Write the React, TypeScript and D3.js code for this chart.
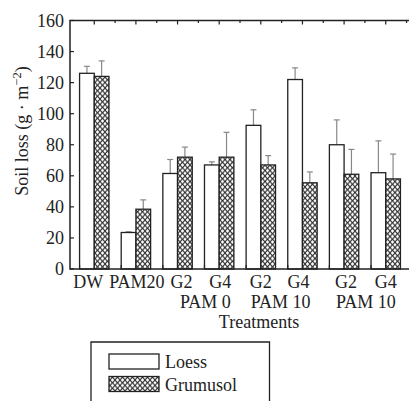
import * as d3 from "d3";

// treatment categories along the x axis
const categories = ["DW", "PAM20", "G2", "G4", "G2", "G4", "G2", "G4"];
// second-line group labels: [label, first index, last index]
const groups: [string, number, number][] = [
  ["PAM 0", 2, 3],
  ["PAM 10", 4, 5],
  ["PAM 10", 6, 7],
];
// soil loss (g·m-2) with upper error bar
const loess = [126, 23.5, 61.5, 67, 92.5, 122, 80, 62];
const loessErr = [4.5, 0.5, 9, 2, 10, 7.5, 16, 20.5];
const grumusol = [124, 38.5, 72, 72, 67, 55.5, 61, 58];
const grumusolErr = [10, 6, 6.5, 16, 6, 7, 16, 16];
const yTicks = [0, 20, 40, 60, 80, 100, 120, 140, 160];

const W = 409;
const H = 401;
const FONT = "'Liberation Serif', 'Times New Roman', serif";
// small hand nudges of the tick labels, as in the original layout
const labelNudge = [-6, 1, 4, 1, 0, -4, 2, 0];
const groupNudge = [7, -1, 1];

export default function App() {
  const left = 70;
  const top = 20.5;
  const bottom = 269;
  const right = 410;

  const y = d3.scaleLinear().domain([0, 160]).range([bottom, top]);
  const x = d3
    .scalePoint<number>()
    .domain(d3.range(categories.length))
    .range([left, right])
    .padding(0.583);
  const barW = 14.7;
  const step = x.step();

  const series = [
    { name: "Loess", values: loess, err: loessErr, fill: "#fff", off: -barW },
    { name: "Grumusol", values: grumusol, err: grumusolErr, fill: "url(#hatch)", off: 0 },
  ];

  return (
    <svg
      width={W}
      height={H}
      style={{ position: "absolute", left: 0, top: 0, background: "#fff" }}
      fontFamily={FONT}
    >
      <defs>
        <pattern id="hatch" patternUnits="userSpaceOnUse" width={5} height={5.5}>
          <rect width={5} height={5.5} fill="#fff" />
          <path d="M0,0L5,5.5M5,0L0,5.5" stroke="#333" strokeWidth={1.1} />
        </pattern>
      </defs>

      {/* bars */}
      {series.map((s) =>
        s.values.map((v, i) => {
          const cx = (x(i) as number) + s.off;
          return (
            <g key={s.name + i}>
              <line
                x1={cx + barW / 2}
                x2={cx + barW / 2}
                y1={y(v)}
                y2={y(v + s.err[i])}
                stroke="#888"
                strokeWidth={1.2}
              />
              <line
                x1={cx + barW / 2 - 3}
                x2={cx + barW / 2 + 3}
                y1={y(v + s.err[i])}
                y2={y(v + s.err[i])}
                stroke="#888"
                strokeWidth={1.2}
              />
              <rect
                x={cx}
                y={y(v)}
                width={barW}
                height={bottom - y(v)}
                fill={s.fill}
                stroke="#222"
                strokeWidth={1.3}
              />
            </g>
          );
        })
      )}

      {/* frame */}
      <path
        d={`M${W},${top}H${left}V${bottom}H${W}`}
        fill="none"
        stroke="#222"
        strokeWidth={1.5}
      />

      {/* y ticks */}
      {yTicks.map((t) => (
        <g key={t}>
          <line x1={left} x2={left + 4} y1={y(t)} y2={y(t)} stroke="#222" strokeWidth={1.2} />
          <text
            x={64}
            y={y(t)}
            dy="0.35em"
            textAnchor="end"
            fontSize={18}
            fill="#222"
          >
            {t}
          </text>
        </g>
      ))}

      {/* top & bottom ticks */}
      {categories.map((_, i) => {
        const c = x(i) as number;
        return (
          <g key={"t" + i}>
            <line x1={c} x2={c} y1={top} y2={top + 4} stroke="#222" strokeWidth={1.2} />
            <line
              x1={c + step / 2}
              x2={c + step / 2}
              y1={top}
              y2={top + 2.5}
              stroke="#222"
              strokeWidth={1.2}
            />
            <line
              x1={c - barW}
              x2={c - barW}
              y1={bottom}
              y2={bottom - 4}
              stroke="#222"
              strokeWidth={1.2}
            />
          </g>
        );
      })}

      {/* category labels */}
      {categories.map((c, i) => (
        <text
          key={"c" + i}
          x={(x(i) as number) + labelNudge[i]}
          y={288}
          textAnchor="middle"
          fontSize={18}
          fill="#222"
        >
          {c}
        </text>
      ))}
      {groups.map(([label, a, b], i) => (
        <text
          key={"g" + i}
          x={((x(a) as number) + (x(b) as number)) / 2 + groupNudge[i]}
          y={308}
          textAnchor="middle"
          fontSize={18}
          fill="#222"
        >
          {label}
        </text>
      ))}
      <text x={259} y={328} textAnchor="middle" fontSize={18} fill="#222">
        Treatments
      </text>

      {/* y title */}
      <text
        transform={`translate(28,131) rotate(-90)`}
        textAnchor="middle"
        fontSize={18}
        fill="#222"
      >
        Soil loss (g · m
        <tspan fontSize={12.5} dy={-7}>
          −2
        </tspan>
        <tspan dy={7}>)</tspan>
      </text>

      {/* legend */}
      <path d={`M91,${H + 5}V342H269.5V${H + 5}`} fill="none" stroke="#222" strokeWidth={1.3} />
      {series.map((s, i) => (
        <g key={"l" + s.name} transform={`translate(0,${i * 22.5})`}>
          <rect x={109} y={354} width={50} height={15} fill={s.fill} stroke="#222" strokeWidth={1.3} />
          <text x={165} y={368} fontSize={18} fill="#222">
            {s.name}
          </text>
        </g>
      ))}
    </svg>
  );
}
